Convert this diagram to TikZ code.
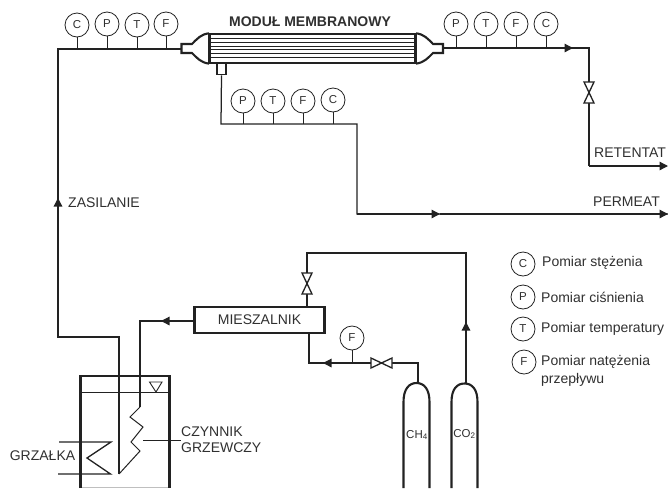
\documentclass[tikz,border=0pt]{standalone}
\usepackage{fontspec}
\setmainfont{Liberation Sans}
\usetikzlibrary{arrows.meta,calc}
\definecolor{ink}{HTML}{222222}
\definecolor{txt}{HTML}{303030}
\tikzset{
  x=1pt,y=-1pt,
  pipe/.style={draw=ink,line width=1.25pt,line join=miter},
  thin pipe/.style={draw=ink,line width=1pt},
  heavy/.style={draw=ink,line width=2.1pt,line join=miter},
  gauge/.style={circle,draw=ink,line width=.8pt,minimum size=24pt,inner sep=0pt,font=\fontsize{11.5}{12}\selectfont,text=txt,fill=white},
  stem/.style={draw=ink,line width=.8pt},
  lab/.style={font=\fontsize{14}{16}\selectfont,text=txt,inner sep=0pt},
  leg/.style={lab,anchor=west,font=\fontsize{14}{16}\selectfont},
  flow/.style={draw=ink,line width=1.25pt,-{Triangle[length=8.5pt,width=8.5pt,fill=ink]}},
  vlv/.style={draw=ink,line width=1.3pt,fill=white,line join=miter},
}
\newcommand{\vvalve}[3]{% x, y, half height
  \draw[vlv] (#1-5,#2-#3) -- (#1+5,#2-#3) -- (#1-5,#2+#3) -- (#1+5,#2+#3) -- cycle;}
\newcommand{\hvalve}[3]{%
  \draw[vlv] (#1-#3,#2-5) -- (#1-#3,#2+5) -- (#1+#3,#2-5) -- (#1+#3,#2+5) -- cycle;}
\begin{document}
\begin{tikzpicture}
\useasboundingbox (0,0) rectangle (668,488);
\fill[white] (0,0) rectangle (668,488);

% feed line and gauges
\coordinate (feedIn) at (181,49);
\coordinate (feedCorner) at (58,49);
\coordinate (feedLow) at (58,337);
\coordinate (feedKnee) at (119,337);
\coordinate (coilEnd) at (119,474);
\coordinate (feedTip) at (58,198);
\draw[pipe] (feedIn) -- (feedCorner) -- (feedLow) -- (feedKnee) -- (coilEnd);
\draw[flow] (feedLow) -- (feedTip);
\node[gauge] (c1) at (77,25) {C};
\node[gauge] (p1) at (107,24) {P};
\node[gauge] (t1) at (137,25) {T};
\node[gauge] (f1) at (166,24) {F};
\foreach \g in {c1,p1,t1,f1} \draw[stem] (\g) -- (\g |- feedIn);

% membrane module
\foreach \yy in {38.5,42.5,46,49.5,53,57.5} \draw[ink,line width=.6pt] (210,\yy) -- (415,\yy);
\node[draw=ink,line width=1.8pt,minimum width=205pt,minimum height=28.5pt,inner sep=0pt] (mod) at (312.5,48.5) {};
\draw[heavy] (mod.north west) .. controls (201,34) and (197,39) .. (192,44) -- (181.5,44) -- (181.5,53) -- (192,53) .. controls (197,58) and (201,62.7) .. (mod.south west);
\draw[heavy] (mod.north east) .. controls (424,34) and (428,39) .. (433,44) -- (443,44) -- (443,53) -- (433,53) .. controls (428,58) and (424,62.7) .. (mod.south east);
\draw[heavy] (mod.north west) -- (mod.south west) (mod.north east) -- (mod.south east);
\node[draw=ink,line width=1.6pt,minimum width=8.5pt,minimum height=11pt,inner sep=0pt] (perm) at (221.5,69) {};
\node[font=\fontsize{14}{16}\selectfont\bfseries,text=txt,inner sep=0pt] (modlab) at (310,22) {MODUŁ MEMBRANOWY};

% retentate
\coordinate (retOut) at (443,48);
\coordinate (retCorner) at (589,48);
\coordinate (retLow) at (589,166);
\coordinate (retEnd) at (668,166);
\coordinate (retTip) at (573,48);
\draw[pipe] (retOut) -- (retCorner) -- (retLow);
\draw[flow] (retOut) -- (retTip);
\draw[flow] (retLow) -- (retEnd);
\vvalve{589}{92.5}{10.5}
\node[gauge] (p2) at (456,24) {P};
\node[gauge] (t2) at (486,24) {T};
\node[gauge] (f2) at (516,24) {F};
\node[gauge] (c2) at (546,24) {C};
\foreach \g in {p2,t2,f2,c2} \draw[stem] (\g) -- (\g |- retOut);
\node[lab,anchor=west] (retlab) at (594,153) {RETENTAT};

% permeate
\coordinate (permKnee) at (221,124);
\coordinate (permCorner) at (357,124);
\coordinate (permLow) at (357,214);
\coordinate (permEnd) at (668,214);
\coordinate (permTip) at (440,214);
\draw[pipe] (perm.south) -- (permKnee) -- (permCorner) -- (permLow) -- (permEnd);
\draw[flow] (permLow) -- (permTip);
\draw[flow] (permTip) -- (permEnd);
\node[gauge] (p3) at (243,101) {P};
\node[gauge] (t3) at (273,101) {T};
\node[gauge] (f3) at (303,101) {F};
\node[gauge] (c3) at (333,100) {C};
\foreach \g in {p3,t3,f3,c3} \draw[stem] (\g) -- (\g |- permKnee);
\node[lab,anchor=west] (permlab) at (593,202) {PERMEAT};
\node[lab,anchor=west] (feedlab) at (68,203) {ZASILANIE};

% mixer
\node[draw=ink,line width=2.1pt,minimum width=130pt,minimum height=26pt,inner sep=0pt,lab] (mix) at (259.5,320) {MIESZALNIK};
\coordinate (coilTop) at (140,321);
\coordinate (mixTip) at (161,321);
\coordinate (coilStart) at (140,407);
\draw[pipe] (mix.west |- coilTop) -- (coilTop) -- (coilStart);
\draw[flow] (mix.west |- coilTop) -- (mixTip);

% tank
\draw[draw=black!25,line width=.8pt] (82,487.3) -- (168,487.3);
\draw[draw=ink,line width=2.4pt,line join=miter] (80.5,488) -- (80.5,376) -- (169.5,376) -- (169.5,488);
\draw[ink,line width=.9pt] (81,392.5) -- (169,392.5);
\draw[ink,line width=.9pt,fill=white,line join=miter] (149.5,382) -- (162,382) -- (156,392) -- cycle;
\draw[thin pipe] (coilEnd) -- (140,451) -- (131,442) -- (143,427) -- (130,417) -- (coilStart);
\draw[draw=ink,line width=1.3pt,line join=miter] (59,442) -- (111,442) -- (87,458) -- (110.5,474) -- (58,474);
\node[lab] (heat) at (42.5,456) {GRZAŁKA};
\node[lab,anchor=west] (coil1) at (181,432) {CZYNNIK};
\node[lab,anchor=west] (coil2) at (181,448) {GRZEWCZY};
\draw[ink,line width=.7pt] (143,440) -- (181,440);

% CO2 cylinder
\coordinate (loopCorner) at (466,253);
\coordinate (loopLeft) at (307,253);
\coordinate (co2Tip) at (466,322);
\draw[heavy] (451.5,488) -- (451.5,402) .. controls (451.5,389) and (457,383.5) .. (464.5,383.5) .. controls (472,383.5) and (477.5,389) .. (477.5,402) -- (477.5,488);
\draw[pipe] (466,383) -- (loopCorner) -- (loopLeft) -- (mix.north -| loopLeft);
\draw[flow] (466,383) -- (co2Tip);
\vvalve{307}{283.5}{10.5}
\node[font=\fontsize{11.5}{12}\selectfont,text=txt,inner sep=0pt] (co2) at (464.5,434) {CO\textsubscript{2}};

% CH4 cylinder
\coordinate (ch4Knee) at (418,363);
\coordinate (mixKnee) at (309,363);
\coordinate (mixTipB) at (323,363);
\draw[heavy] (403.5,488) -- (403.5,402) .. controls (403.5,389) and (409,383) .. (416.5,383) .. controls (424,383) and (429.5,389) .. (429.5,402) -- (429.5,488);
\draw[pipe] (418,383) -- (ch4Knee) -- (mixKnee) -- (mix.south -| mixKnee);
\draw[flow] (ch4Knee) -- (mixTipB);
\hvalve{381.5}{363}{10.5}
\node[gauge] (f4) at (352,338) {F};
\draw[stem] (f4) -- (f4 |- ch4Knee);
\node[font=\fontsize{11.5}{12}\selectfont,text=txt,inner sep=0pt] (ch4) at (417,435) {CH\textsubscript{4}};

% legend
\node[gauge] (lc) at (523,264) {C};
\node[gauge] (lp) at (523,297) {P};
\node[gauge] (lt) at (523,329) {T};
\node[gauge] (lf) at (524,362) {F};
\node[leg] (lc1) at (542,263) {Pomiar stężenia};
\node[leg] (lp1) at (541,297) {Pomiar ciśnienia};
\node[leg] (lt1) at (541,329) {Pomiar temperatury};
\node[leg] (lf1) at (541,362) {Pomiar natężenia};
\node[leg] (lf2) at (541,380) {przepływu};
\end{tikzpicture}
\end{document}
